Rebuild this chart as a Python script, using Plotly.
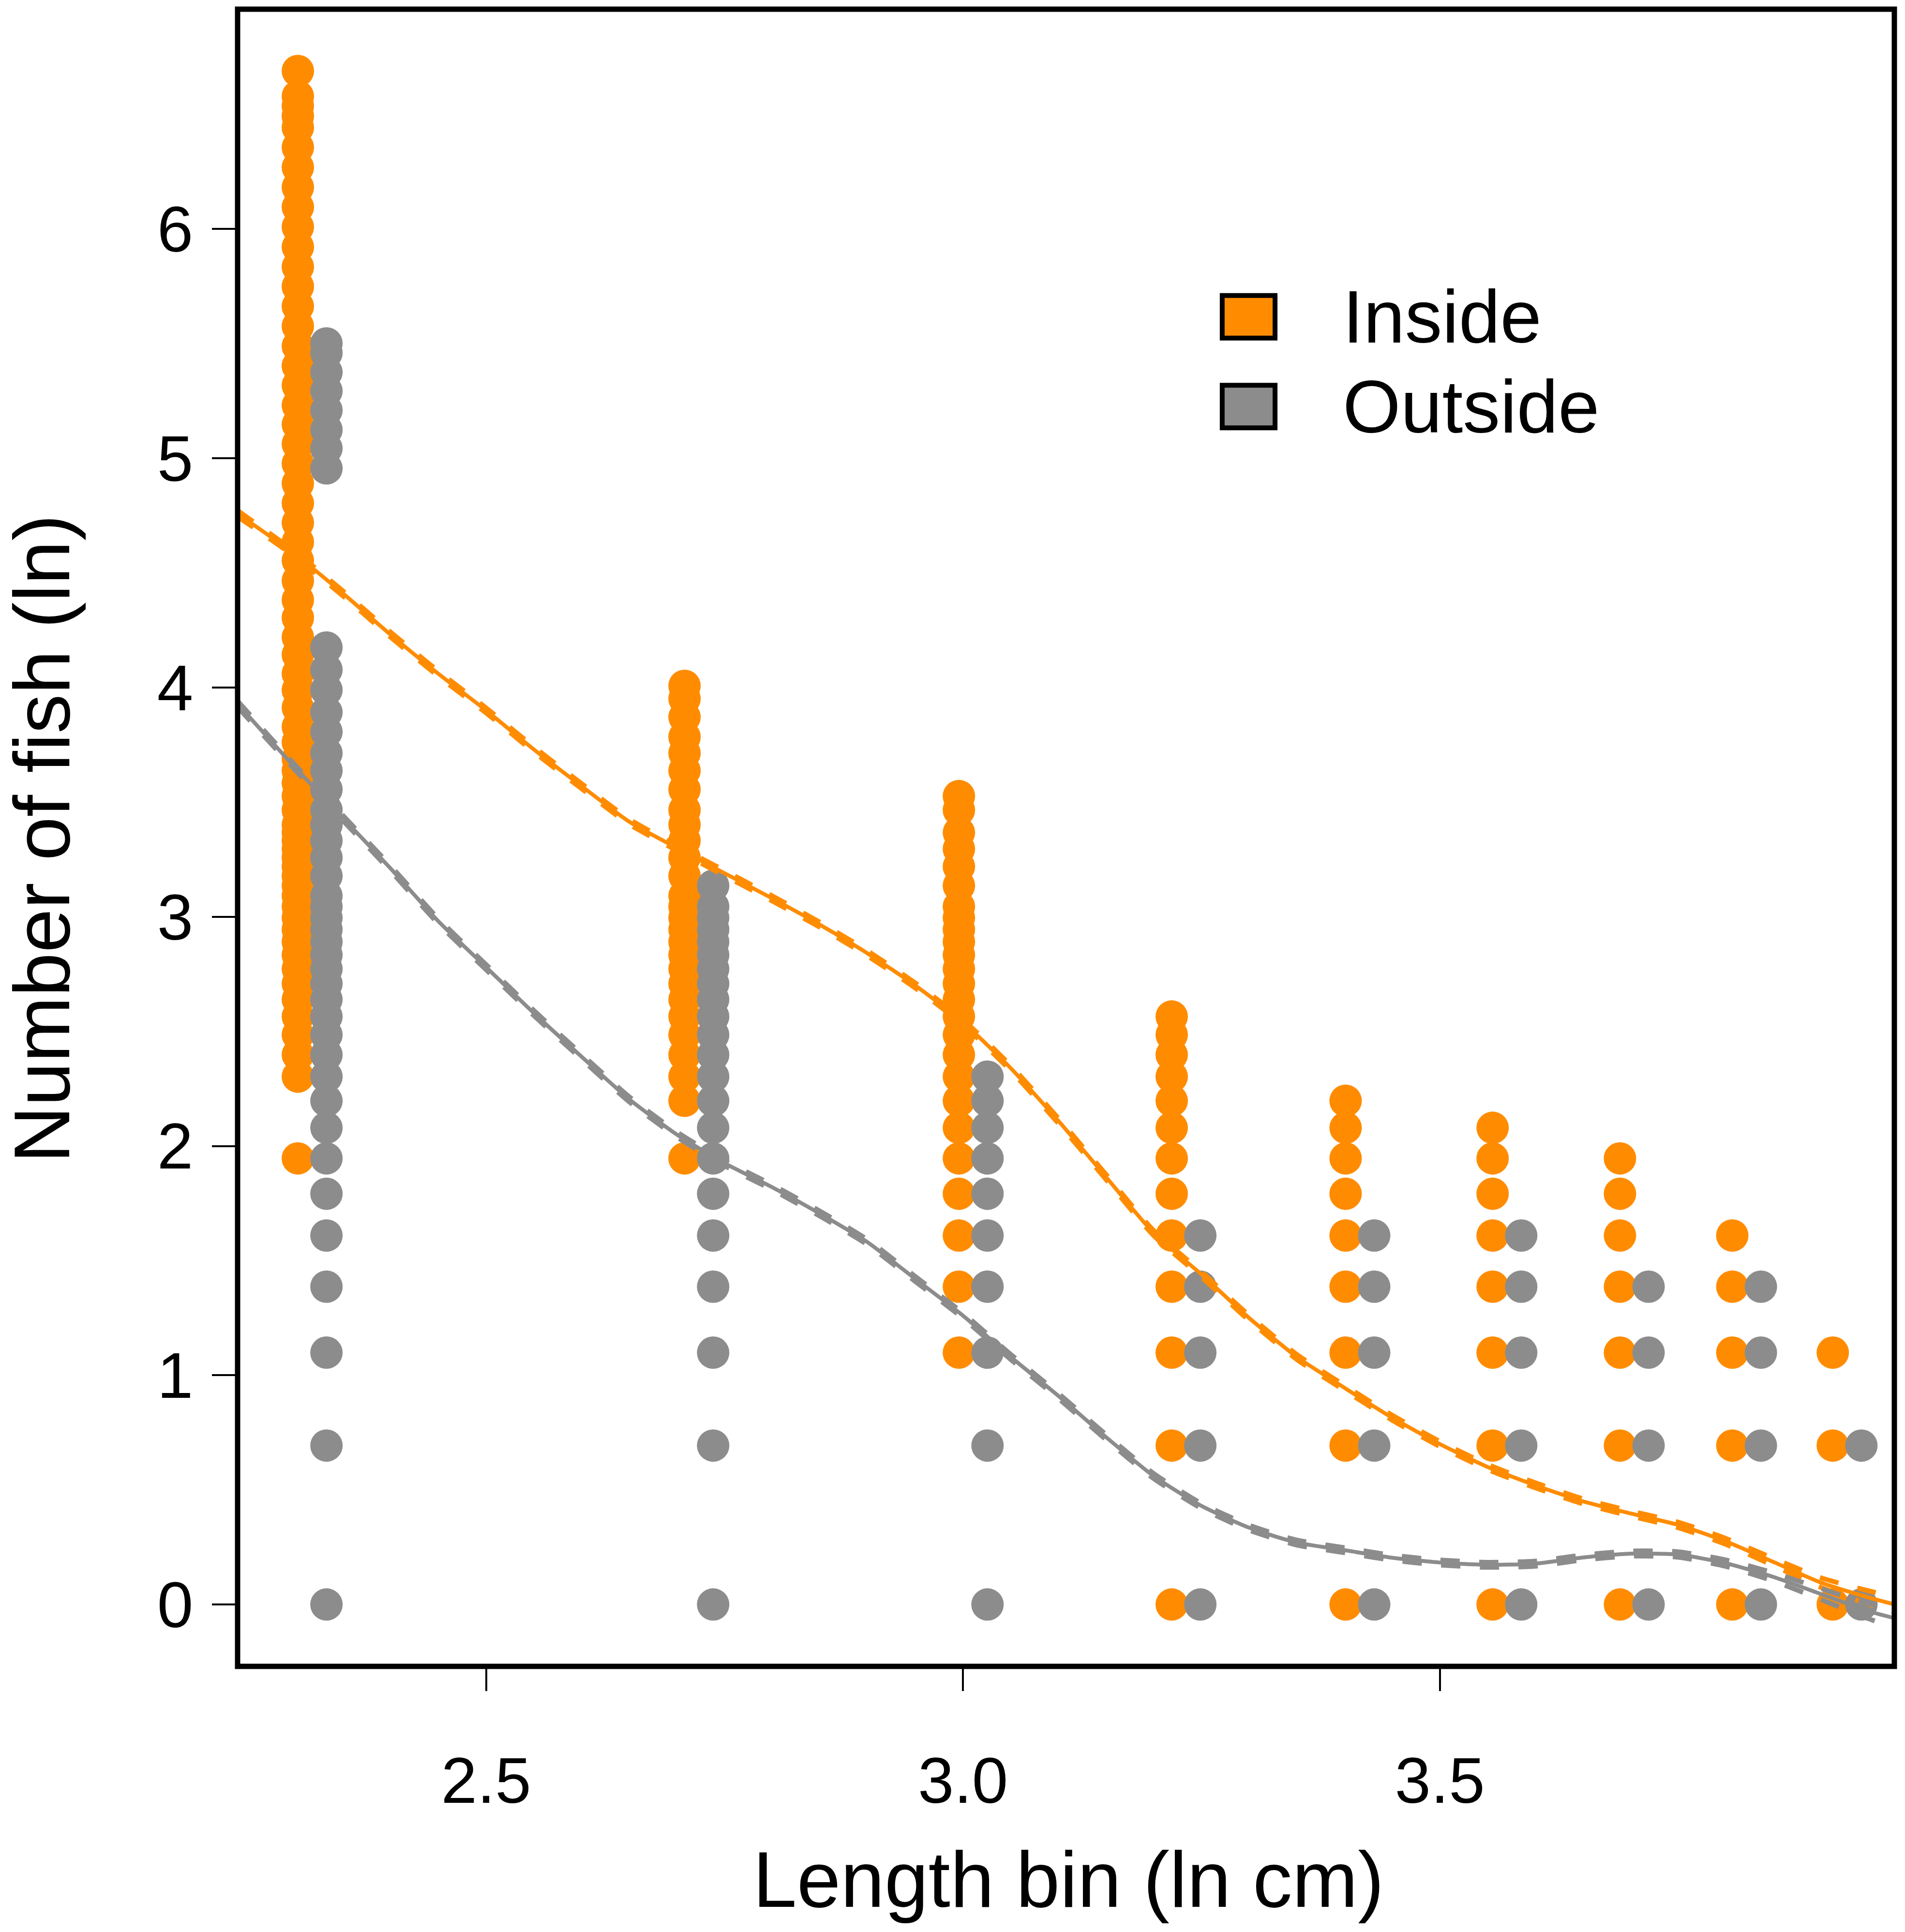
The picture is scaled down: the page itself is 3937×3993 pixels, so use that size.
import numpy as np
import plotly.graph_objects as go

# ---------------- data ----------------
bins_cm = [10, 15, 20, 25, 30, 35, 40, 45, 50]

# counts of fish per site-sample (plotted as ln(count)) for each length bin
inside_counts = {
    10: [7, 10, 11, 12, 13, 14, 15, 16, 17, 18, 19, 20, 21, 22, 23, 24, 25, 26, 27, 28, 29, 30,
         32, 34, 36, 38, 40, 43, 46, 50, 54, 58, 63, 68, 74, 80, 87, 95, 103, 112, 122, 133,
         145, 158, 172, 187, 204, 222, 242, 264, 288, 314, 342, 373, 407, 444, 484, 528, 576,
         628, 660, 690, 720, 804],
    15: [7, 9, 10, 11, 12, 13, 14, 15, 16, 17, 18, 19, 20, 21, 22, 24, 26, 28, 30, 32, 35, 38,
         41, 44, 48, 52, 55],
    20: [3, 4, 5, 6, 7, 8, 9, 10, 11, 12, 13, 14, 15, 16, 17, 18, 19, 20, 21, 23, 25, 27, 29,
         32, 34],
    25: [1, 2, 3, 4, 5, 6, 7, 8, 9, 10, 11, 12, 13],
    30: [1, 2, 3, 4, 5, 6, 7, 8, 9],
    35: [1, 2, 3, 4, 5, 6, 7, 8],
    40: [1, 2, 3, 4, 5, 6, 7],
    45: [1, 2, 3, 4, 5],
    50: [1, 2, 3],
}
outside_counts = {
    10: [1, 2, 3, 4, 5, 6, 7, 8, 9, 10, 11, 12, 13, 14, 15, 16, 17, 18, 19, 20, 21, 22, 24, 26,
         28, 30, 32, 35, 38, 41, 45, 49, 54, 59, 65, 142, 155, 168, 183, 199, 216, 235, 245],
    15: [1, 2, 3, 4, 5, 6, 7, 8, 9, 10, 11, 12, 13, 14, 15, 16, 17, 18, 19, 20, 21, 23],
    20: [1, 2, 3, 4, 5, 6, 7, 8, 9, 10],
    25: [1, 2, 3, 4, 5],
    30: [1, 2, 3, 4, 5],
    35: [1, 2, 3, 4, 5],
    40: [1, 2, 3, 4],
    45: [1, 2, 3, 4],
    50: [1, 2],
}

# smoothed fits (ln number vs ln length)
curve_x = [2.239, 2.30, 2.35, 2.40, 2.45, 2.50, 2.55, 2.60, 2.65, 2.70, 2.75, 2.80, 2.85,
           2.90, 2.95, 3.00, 3.05, 3.10, 3.15, 3.20, 3.25, 3.30, 3.35, 3.40, 3.45, 3.50,
           3.55, 3.60, 3.65, 3.70, 3.75, 3.80, 3.85, 3.90, 3.95, 3.977]
inside_fit = [4.76, 4.58, 4.41, 4.23, 4.06, 3.90, 3.73, 3.57, 3.415, 3.30, 3.19, 3.08, 2.965,
              2.84, 2.70, 2.54, 2.34, 2.11, 1.865, 1.62, 1.44, 1.25, 1.08, 0.945, 0.815, 0.70,
              0.60, 0.52, 0.45, 0.397, 0.347, 0.275, 0.185, 0.095, 0.03, 0.0]
outside_fit = [3.93, 3.65, 3.43, 3.21, 2.98, 2.78, 2.58, 2.39, 2.204, 2.05, 1.925, 1.82, 1.705,
               1.58, 1.42, 1.26, 1.08, 0.91, 0.73, 0.56, 0.43, 0.335, 0.27, 0.237, 0.204, 0.183,
               0.173, 0.178, 0.205, 0.222, 0.218, 0.18, 0.12, 0.045, -0.03, -0.06]
inside_band = [0.013, 0.011, 0.011, 0.011, 0.011, 0.011, 0.011, 0.011, 0.011, 0.011, 0.011,
               0.011, 0.011, 0.011, 0.011, 0.011, 0.011, 0.011, 0.011, 0.011, 0.011, 0.011,
               0.011, 0.011, 0.011, 0.011, 0.011, 0.011, 0.011, 0.011, 0.012, 0.013, 0.016,
               0.021, 0.029, 0.035]
outside_band = [0.013, 0.011, 0.011, 0.011, 0.011, 0.011, 0.011, 0.011, 0.011, 0.011, 0.011,
                0.011, 0.011, 0.011, 0.011, 0.011, 0.011, 0.011, 0.011, 0.011, 0.011, 0.011,
                0.011, 0.011, 0.011, 0.011, 0.011, 0.011, 0.011, 0.011, 0.012, 0.014, 0.018,
                0.024, 0.033, 0.04]

x_ticks = [2.5, 3.0, 3.5]
x_ticktext = ["2.5", "3.0", "3.5"]
y_ticks = [0, 1, 2, 3, 4, 5, 6]
y_ticktext = ["0", "1", "2", "3", "4", "5", "6"]

# ---------------- styling ----------------
ORANGE = "#FF8C00"
GREY = "#8C8C8C"
FONT = "Liberation Sans, Arial, Helvetica, sans-serif"
OUT_OFFSET = 0.03  # horizontal dodge for the outside series


def points(counts, dx):
    xs, ys = [], []
    for b in bins_cm:
        for c in counts[b]:
            xs.append(np.log(b) + dx)
            ys.append(np.log(c))
    return xs, ys


fig = go.Figure()
for counts, dx, col, name in [(inside_counts, 0.0, ORANGE, "Inside"),
                              (outside_counts, OUT_OFFSET, GREY, "Outside")]:
    xs, ys = points(counts, dx)
    fig.add_trace(go.Scatter(x=xs, y=ys, mode="markers", name=name, showlegend=False,
                             marker=dict(size=67, color=col, line=dict(width=0))))

for fit, band, col in [(inside_fit, inside_band, ORANGE), (outside_fit, outside_band, GREY)]:
    fit = np.array(fit)
    band = np.array(band)
    fig.add_trace(go.Scatter(x=curve_x, y=fit, mode="lines", showlegend=False,
                             line=dict(color=col, width=8, shape="spline", smoothing=0.6)))
    for sgn in (1, -1):
        fig.add_trace(go.Scatter(x=curve_x, y=fit + sgn * band, mode="lines", showlegend=False,
                                 line=dict(color=col, width=10, dash="40px,40px",
                                           shape="spline", smoothing=0.6)))

W, H = 3937, 3993
# the page body adds an 8px offset; compensate so the plot frame lands where the reference has it
L, R, T, B = 483, 30, 11, 557

fig.update_layout(
    width=W, height=H,
    margin=dict(l=L, r=R, t=T, b=B, pad=0),
    paper_bgcolor="white", plot_bgcolor="white",
    font=dict(family=FONT, color="black", size=134),
    showlegend=False,
    xaxis=dict(range=[2.2394, 3.9766], showgrid=False, zeroline=False, showline=False,
               tickmode="array", tickvals=x_ticks, ticktext=x_ticktext,
               ticks="outside", ticklen=50, tickwidth=4, tickcolor="black",
               tickfont=dict(size=134, family=FONT, color="black"), ticklabelstandoff=70),
    yaxis=dict(range=[-0.270, 6.959], showgrid=False, zeroline=False, showline=False,
               tickmode="array", tickvals=y_ticks, ticktext=y_ticktext,
               ticks="outside", ticklen=52, tickwidth=4, tickcolor="black",
               tickfont=dict(size=134, family=FONT, color="black"), ticklabelstandoff=12),
)

# plot frame
fig.add_shape(type="rect", xref="paper", yref="paper", x0=0, x1=1, y0=0, y1=1,
              line=dict(color="black", width=11), fillcolor="rgba(0,0,0,0)", layer="above")

# legend (drawn manually to reproduce the large outlined boxes)
for (y0, y1, col, label, ty) in [(0.8015, 0.8272, ORANGE, "Inside", 0.8143),
                                 (0.7474, 0.7731, GREY, "Outside", 0.7601)]:
    fig.add_shape(type="rect", xref="paper", yref="paper", x0=0.5943, x1=0.6262, y0=y0, y1=y1,
                  line=dict(color="black", width=10), fillcolor=col, layer="above")
    fig.add_annotation(xref="paper", yref="paper", x=0.6665, y=ty, text=label, showarrow=False,
                       xanchor="left", yanchor="middle",
                       font=dict(size=154, family=FONT, color="black"))

# axis titles
fig.add_annotation(xref="paper", yref="paper", x=0.5015, y=-0.1286, text="Length bin (ln cm)",
                   showarrow=False, xanchor="center", yanchor="middle",
                   font=dict(size=163, family=FONT, color="black"))
fig.add_annotation(xref="paper", yref="paper", x=-0.118, y=0.4996, text="Number of fish (ln)",
                   showarrow=False, xanchor="center", yanchor="middle", textangle=-90,
                   font=dict(size=163, family=FONT, color="black"))

fig.write_html("out.html")
